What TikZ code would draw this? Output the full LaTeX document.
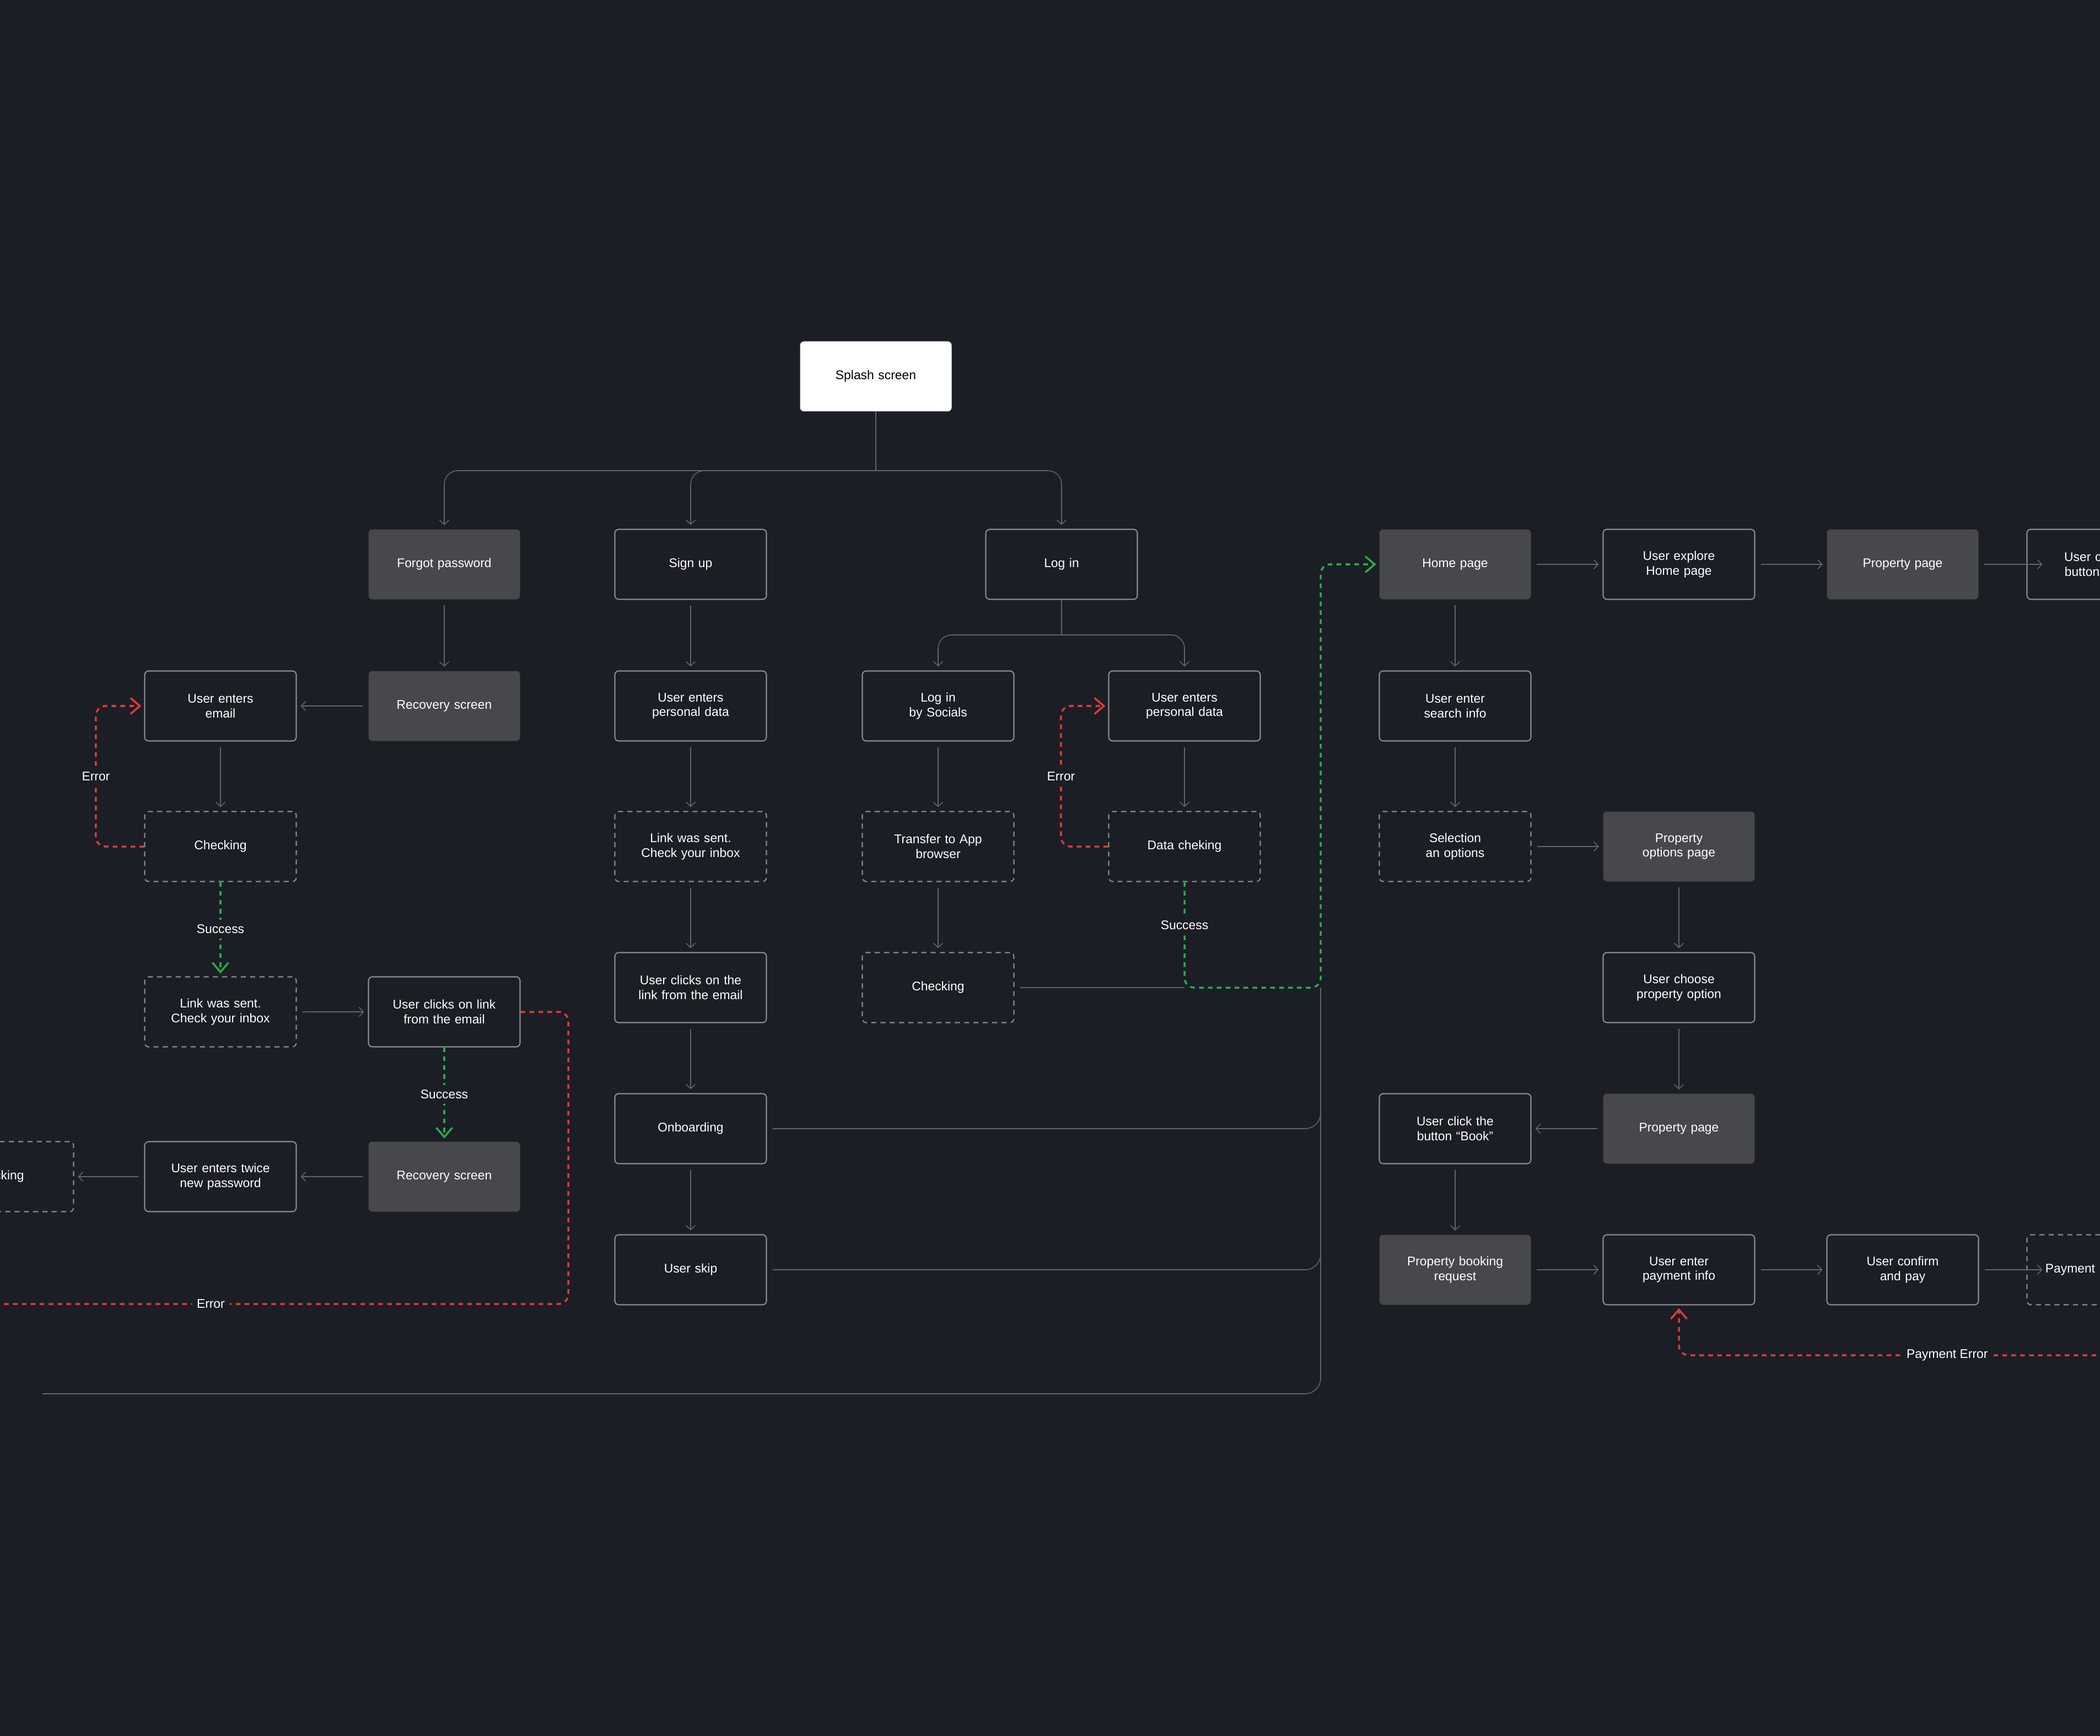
\documentclass[tikz,border=0pt]{standalone}
\usepackage{fontspec}
\setmainfont{Liberation Sans}
\usetikzlibrary{arrows.meta, positioning}
\definecolor{bgdark}{RGB}{27,30,37}
\definecolor{scrfill}{RGB}{70,72,76}
\definecolor{edgegray}{RGB}{138,139,142}
\definecolor{linegray}{RGB}{98,100,105}
\definecolor{errred}{RGB}{222,58,55}
\definecolor{okgreen}{RGB}{42,170,72}

\begin{document}
\begin{tikzpicture}[
  base/.style={rectangle, rounded corners=2pt, minimum width=2.75cm, minimum height=1.27cm,
    text width=2.5cm, align=center, font=\fontsize{6.5}{7.6}\selectfont, text=white},
  scrbox/.style={base, fill=scrfill},
  actbox/.style={base, draw=edgegray, line width=0.6pt, fill=bgdark},
  chkbox/.style={base, draw=edgegray, line width=0.6pt, dash pattern=on 2.6pt off 2.2pt, fill=bgdark},
  splashbox/.style={base, fill=white, text=black},
  wire/.style={linegray, line width=0.45pt, rounded corners=8pt},
  arr/.style={linegray, line width=0.45pt, -{Straight Barb[length=0.8mm, width=1.7mm]},
    shorten >=0.7mm, shorten <=1mm},
  elbow/.style={rounded corners=7pt, shorten <=0pt},
  errline/.style={errred, line width=1pt, dash pattern=on 2.4pt off 2.2pt, rounded corners=5pt},
  errarr/.style={errline, -{Straight Barb[length=1.7mm, width=2.9mm]}, shorten >=0.5mm},
  okarr/.style={okgreen, line width=1pt, dash pattern=on 2.4pt off 2.2pt, rounded corners=5pt,
    -{Straight Barb[length=1.7mm, width=2.9mm]}, shorten >=0.5mm},
  lbl/.style={font=\fontsize{6.5}{7.6}\selectfont, text=white, fill=bgdark, inner sep=2.5pt}
]
\path[use as bounding box, fill=bgdark] (0,0) rectangle (38.1,-31.5);
\clip (0,0) rectangle (38.1,-31.5);
% === Top: splash and the three entry screens ===
\node[splashbox] (splash) at (15.89,-6.83) {Splash screen};
\node[scrbox] (forgot) at (8.06,-10.24) {Forgot password};
\node[actbox] (signup) at (12.53,-10.24) {Sign up};
\node[actbox] (login) at (19.26,-10.24) {Log in};
\coordinate (fork) at (15.89,-8.54);
\coordinate (lfork) at (19.26,-11.52);
% === Forgot password branch ===
\node[scrbox] (recovery1) at (8.06,-12.81) {Recovery screen};
\node[actbox] (userEmail) at (4.00,-12.81) {User enters\\email};
\node[chkbox] (check1) at (4.00,-15.36) {Checking};
\node[chkbox] (fpLink) at (4.00,-18.36) {Link was sent.\\Check your inbox};
\node[actbox] (fpClick) at (8.06,-18.36) {User clicks on link\\from the email};
\node[scrbox] (recovery2) at (8.06,-21.35) {Recovery screen};
\node[actbox] (twice) at (4.00,-21.35) {User enters twice\\new password};
\node[chkbox] (fpCheck) at (-0.04,-21.35) {Checking};
% === Sign up branch ===
\node[actbox] (suData) at (12.53,-12.81) {User enters\\personal data};
\node[chkbox] (suLink) at (12.53,-15.36) {Link was sent.\\Check your inbox};
\node[actbox] (suClick) at (12.53,-17.92) {User clicks on the\\link from the email};
\node[actbox] (onboard) at (12.53,-20.48) {Onboarding};
\node[actbox] (skip) at (12.53,-23.04) {User skip};
% === Log in branch ===
\node[actbox] (socials) at (17.02,-12.81) {Log in\\by Socials};
\node[chkbox] (transfer) at (17.02,-15.36) {Transfer to App\\browser};
\node[chkbox] (check2) at (17.02,-17.92) {Checking};
\node[actbox] (liData) at (21.49,-12.81) {User enters\\personal data};
\node[chkbox] (dataCheck) at (21.49,-15.36) {Data cheking};
% === Main app flow ===
\node[scrbox] (home) at (26.40,-10.24) {Home page};
\node[actbox] (explore) at (30.46,-10.24) {User explore\\Home page};
\node[scrbox] (prop1) at (34.52,-10.24) {Property page};
\node[actbox] (bookBtn) at (38.15,-10.24) {User click the\\button “Book”};
\node[actbox] (search) at (26.40,-12.81) {User enter\\search info};
\node[chkbox] (selection) at (26.40,-15.36) {Selection\\an options};
\node[scrbox] (options) at (30.46,-15.36) {Property\\options page};
\node[actbox] (choose) at (30.46,-17.92) {User choose\\property option};
\node[scrbox] (prop2) at (30.46,-20.48) {Property page};
\node[actbox] (bookClick) at (26.40,-20.48) {User click the\\button “Book”};
\node[scrbox] (bookReq) at (26.40,-23.04) {Property booking\\request};
\node[actbox] (payInfo) at (30.46,-23.04) {User enter\\payment info};
\node[actbox] (confirm) at (34.52,-23.04) {User confirm\\and pay};
\node[chkbox] (payProc) at (38.15,-23.04) {Payment processing};
\coordinate (merge) at (23.96,-17.92);
\coordinate (tail) at (0.77,-25.29);
\coordinate (errOut) at (-0.5,-23.66);
\coordinate (payIn) at (39,-24.59);
% === Tree connectors ===
\draw[wire] (splash.south) -- (fork);
\draw[arr, elbow] (fork) -| (forgot.north);
\draw[arr, elbow] (fork) -| (signup.north);
\draw[arr, elbow] (fork) -| (login.north);
\draw[wire] (login.south) -- (lfork);
\draw[arr, elbow] (lfork) -| (socials.north);
\draw[arr, elbow] (lfork) -| (liData.north);
% === Forgot password arrows ===
\draw[arr] (forgot) -- (recovery1);
\draw[arr] (recovery1) -- (userEmail);
\draw[arr] (userEmail) -- (check1);
\draw[okarr] (check1.south) -- node[lbl] {Success} (fpLink.north);
\draw[arr] (fpLink) -- (fpClick);
\draw[okarr] (fpClick.south) -- node[lbl] {Success} (recovery2.north);
\draw[arr] (recovery2) -- (twice);
\draw[arr] (twice) -- (fpCheck);
\draw[errarr] (check1.west) -- ++(-0.875,0) -- node[lbl] {Error} ++(0,2.55) -- (userEmail.west);
\draw[errline] (fpClick.east) -- ++(0.865,0) -- ++(0,-5.30) -- node[lbl, pos=0.6] {Error} (errOut);
% === Sign up arrows ===
\draw[arr] (signup) -- (suData);
\draw[arr] (suData) -- (suLink);
\draw[arr] (suLink) -- (suClick);
\draw[arr] (suClick) -- (onboard);
\draw[arr] (onboard) -- (skip);
\draw[wire, shorten <=1mm] (onboard.east) -| (merge);
\draw[wire, shorten <=1mm] (skip.east) -| (merge);
\draw[wire] (tail) -| (merge);
% === Log in arrows ===
\draw[arr] (socials) -- (transfer);
\draw[arr] (transfer) -- (check2);
\draw[arr] (liData) -- (dataCheck);
\draw[wire, shorten <=1mm] (check2.east) -- (dataCheck |- merge);
\draw[errarr] (dataCheck.west) -- ++(-0.855,0) -- node[lbl] {Error} ++(0,2.55) -- (liData.west);
\draw[okarr] (dataCheck.south) -- node[lbl, pos=0.41] {Success} (dataCheck |- merge) -- (merge) |- (home.west);
% === Main app arrows ===
\draw[arr] (home) -- (explore);
\draw[arr] (explore) -- (prop1);
\draw[arr] (prop1.east) -- ([xshift=3.6mm]bookBtn.west);
\draw[arr] (home) -- (search);
\draw[arr] (search) -- (selection);
\draw[arr] (selection) -- (options);
\draw[arr] (options) -- (choose);
\draw[arr] (choose) -- (prop2);
\draw[arr] (prop2) -- (bookClick);
\draw[arr] (bookClick) -- (bookReq);
\draw[arr] (bookReq) -- (payInfo);
\draw[arr] (payInfo) -- (confirm);
\draw[arr] (confirm.east) -- ([xshift=3.6mm]payProc.west);
\draw[errarr] (payIn) -| node[lbl, pos=0.215] {Payment Error} (payInfo.south);
\end{tikzpicture}
\end{document}
